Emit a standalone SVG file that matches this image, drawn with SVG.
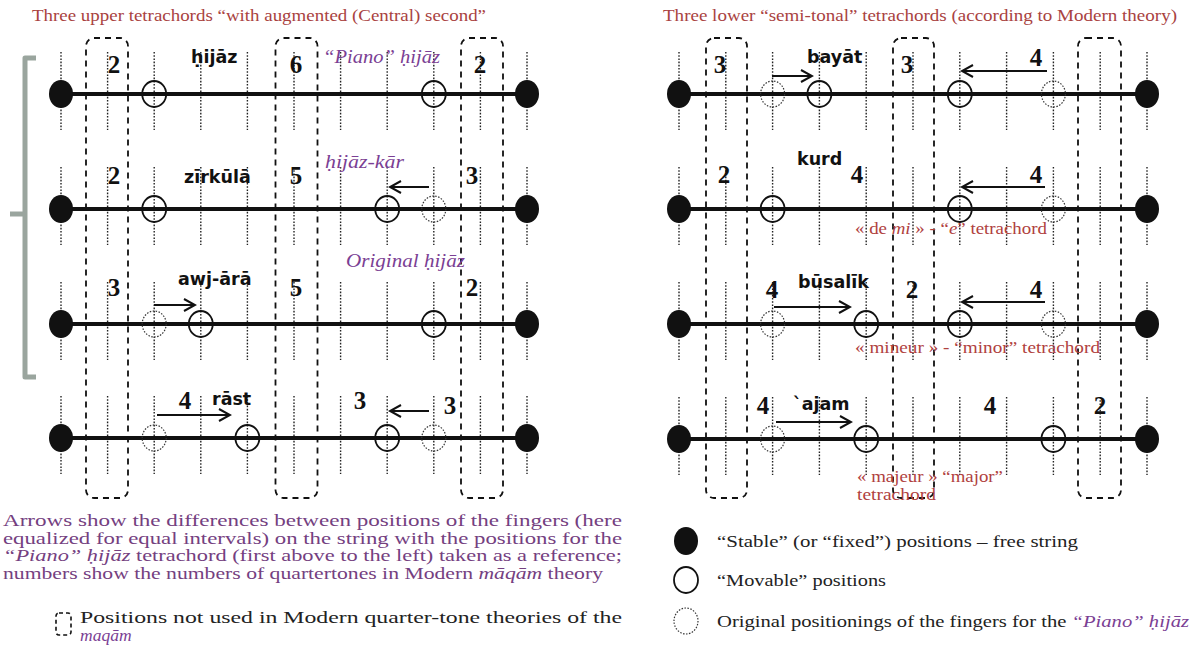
<svg xmlns="http://www.w3.org/2000/svg" xmlns:xlink="http://www.w3.org/1999/xlink" width="1192" height="647" viewBox="0 0 1192 647">
<style>
.tick{stroke:#222;stroke-width:1.4;stroke-dasharray:1.6 1.6}
.str{stroke:#111;stroke-width:4}
.fix{fill:#111}
.mov{fill:none;stroke:#111;stroke-width:1.8}
.orig{fill:none;stroke:#333;stroke-width:1.2;stroke-dasharray:1.5 1.5}
.col{fill:none;stroke:#111;stroke-width:1.8;stroke-dasharray:6 5}
.arr{stroke:#111;stroke-width:2;fill:none;marker-end:url(#ah)}
.num{font-family:"Liberation Serif","DejaVu Serif",serif;font-weight:700;font-size:25px;fill:#111;text-anchor:middle}
.name{font-family:"DejaVu Sans",sans-serif;font-weight:bold;font-size:17.5px;fill:#111}
.pi{font-family:"Liberation Serif",serif;font-style:italic;font-size:19px;fill:#7b3f94}
.red{font-family:"Liberation Serif",serif;font-size:17px;fill:#b0413e}
.title{font-family:"Liberation Serif",serif;font-size:17px;fill:#a9423f}
.para{font-family:"Liberation Serif",serif;font-size:17px;fill:#74407f}
.leg{font-family:"Liberation Serif",serif;font-size:17.5px;fill:#222}
.it{font-style:italic}
.pur{fill:#7b3f94;font-style:italic}
</style>
<defs>
<marker id="ah" markerWidth="14" markerHeight="14" refX="12" refY="7" orient="auto" markerUnits="userSpaceOnUse"><path d="M1,1 L12,7 L1,13" fill="none" stroke="#111" stroke-width="2"/></marker>
<g id="ticksL">
<line class="tick" x1="61" y1="-42" x2="61" y2="36"/><line class="tick" x1="107.6" y1="-42" x2="107.6" y2="36"/><line class="tick" x1="154.2" y1="-42" x2="154.2" y2="36"/><line class="tick" x1="200.8" y1="-42" x2="200.8" y2="36"/><line class="tick" x1="247.4" y1="-42" x2="247.4" y2="36"/><line class="tick" x1="294" y1="-42" x2="294" y2="36"/><line class="tick" x1="340.6" y1="-42" x2="340.6" y2="36"/><line class="tick" x1="387.2" y1="-42" x2="387.2" y2="36"/><line class="tick" x1="433.8" y1="-42" x2="433.8" y2="36"/><line class="tick" x1="480.4" y1="-42" x2="480.4" y2="36"/><line class="tick" x1="527" y1="-42" x2="527" y2="36"/>
<line class="str" x1="61" y1="0" x2="527" y2="0"/>
<ellipse class="fix" cx="61" cy="0" rx="12" ry="14"/><ellipse class="fix" cx="527" cy="0" rx="12" ry="14"/>
</g>
<g id="ticksR">
<line class="tick" x1="679" y1="-42" x2="679" y2="36"/><line class="tick" x1="725.8" y1="-42" x2="725.8" y2="36"/><line class="tick" x1="772.6" y1="-42" x2="772.6" y2="36"/><line class="tick" x1="819.4" y1="-42" x2="819.4" y2="36"/><line class="tick" x1="866.2" y1="-42" x2="866.2" y2="36"/><line class="tick" x1="913" y1="-42" x2="913" y2="36"/><line class="tick" x1="959.8" y1="-42" x2="959.8" y2="36"/><line class="tick" x1="1006.6" y1="-42" x2="1006.6" y2="36"/><line class="tick" x1="1053.4" y1="-42" x2="1053.4" y2="36"/><line class="tick" x1="1100.2" y1="-42" x2="1100.2" y2="36"/><line class="tick" x1="1147" y1="-42" x2="1147" y2="36"/>
<line class="str" x1="679" y1="0" x2="1147" y2="0"/>
<ellipse class="fix" cx="679" cy="0" rx="12" ry="14"/><ellipse class="fix" cx="1147" cy="0" rx="12" ry="14"/>
</g>
</defs>
<rect width="1192" height="647" fill="#fff"/>

<text class="title" x="32" y="21" textLength="454" lengthAdjust="spacingAndGlyphs">Three upper tetrachords “with augmented (Central) second”</text>
<text class="title" x="663" y="21" textLength="514" lengthAdjust="spacingAndGlyphs">Three lower “semi-tonal” tetrachords (according to Modern theory)</text>

<g id="bracket" fill="none" stroke="#9aa59e" stroke-width="5" stroke-linejoin="round">
<path d="M36,58 L25,58 L25,377 L36,377"/><path d="M25,214 L10,214"/>
</g>

<g id="columns">
<rect class="col" x="86" y="38" width="42" height="460" rx="8"/>
<rect class="col" x="275.5" y="38" width="42" height="460" rx="8"/>
<rect class="col" x="461" y="38" width="42" height="460" rx="8"/>
<rect class="col" x="706" y="38" width="41" height="460" rx="8"/>
<rect class="col" x="893" y="38" width="41" height="460" rx="8"/>
<rect class="col" x="1078" y="38" width="43" height="460" rx="8"/>
</g>

<g id="hijaz">
<use xlink:href="#ticksL" transform="translate(0,94)"/>
<ellipse class="mov" cx="154.2" cy="94" rx="12" ry="13"/><ellipse class="mov" cx="433.8" cy="94" rx="12" ry="13"/>
<text class="num" x="114" y="73">2</text><text class="name" x="191" y="63">ḥijāz</text><text class="num" x="296" y="73">6</text>
<text class="pi" x="323" y="63" textLength="117" lengthAdjust="spacingAndGlyphs">“Piano” ḥijāz</text><text class="num" x="480" y="73">2</text>
</g>
<g id="zirkula">
<use xlink:href="#ticksL" transform="translate(0,209)"/>
<ellipse class="mov" cx="154.2" cy="209" rx="12" ry="13"/><ellipse class="mov" cx="387.2" cy="209" rx="12" ry="13"/><ellipse class="orig" cx="433.8" cy="209" rx="12" ry="13"/>
<text class="num" x="114" y="184">2</text><text class="name" x="184" y="183">zīrkūlā</text><text class="num" x="296" y="184">5</text>
<text class="pi" x="325" y="168" textLength="79" lengthAdjust="spacingAndGlyphs">ḥijāz-kār</text><text class="num" x="472" y="184">3</text>
</g>
<g id="awjara">
<use xlink:href="#ticksL" transform="translate(0,324)"/>
<ellipse class="orig" cx="154.2" cy="324" rx="12" ry="13"/><ellipse class="mov" cx="200.8" cy="324" rx="12" ry="13"/><ellipse class="mov" cx="433.8" cy="324" rx="12" ry="13"/>
<text class="num" x="114" y="296">3</text><text class="name" x="178" y="285">awj-ārā</text><text class="num" x="296" y="296">5</text>
<text class="pi" x="346" y="267" textLength="119" lengthAdjust="spacingAndGlyphs">Original ḥijāz</text><text class="num" x="472" y="296">2</text>
</g>
<g id="rast">
<use xlink:href="#ticksL" transform="translate(0,438)"/>
<ellipse class="orig" cx="154.2" cy="438" rx="12" ry="13"/><ellipse class="mov" cx="247.4" cy="438" rx="12" ry="13"/><ellipse class="mov" cx="387.2" cy="438" rx="12" ry="13"/><ellipse class="orig" cx="433.8" cy="438" rx="12" ry="13"/>
<text class="num" x="185" y="409">4</text><text class="name" x="212" y="405">rāst</text><text class="num" x="360" y="409">3</text><text class="num" x="450" y="414">3</text>
</g>

<g id="bayat">
<use xlink:href="#ticksR" transform="translate(0,94)"/>
<ellipse class="orig" cx="772.6" cy="94" rx="12" ry="13"/><ellipse class="mov" cx="819.4" cy="94" rx="12" ry="13"/><ellipse class="mov" cx="959.8" cy="94" rx="12" ry="13"/><ellipse class="orig" cx="1053.4" cy="94" rx="12" ry="13"/>
<text class="num" x="720" y="73">3</text><text class="name" x="807" y="63">bayāt</text><text class="num" x="907" y="73">3</text><text class="num" x="1036" y="66">4</text>
</g>
<g id="kurd">
<use xlink:href="#ticksR" transform="translate(0,209)"/>
<ellipse class="mov" cx="772.6" cy="209" rx="12" ry="13"/><ellipse class="mov" cx="959.8" cy="209" rx="12" ry="13"/><ellipse class="orig" cx="1053.4" cy="209" rx="12" ry="13"/>
<text class="num" x="724" y="183">2</text><text class="name" x="797" y="165">kurd</text><text class="num" x="857" y="183">4</text><text class="num" x="1036" y="183">4</text>
<text class="red" x="855" y="234" textLength="192" lengthAdjust="spacingAndGlyphs">« de <tspan class="it">mi</tspan> » - “<tspan class="it">e</tspan>” tetrachord</text>
</g>
<g id="busalik">
<use xlink:href="#ticksR" transform="translate(0,324)"/>
<ellipse class="orig" cx="772.6" cy="324" rx="12" ry="13"/><ellipse class="mov" cx="866.2" cy="324" rx="12" ry="13"/><ellipse class="mov" cx="959.8" cy="324" rx="12" ry="13"/><ellipse class="orig" cx="1053.4" cy="324" rx="12" ry="13"/>
<text class="num" x="772" y="298">4</text><text class="name" x="798" y="288">būsalīk</text><text class="num" x="912" y="298">2</text><text class="num" x="1036" y="298">4</text>
<text class="red" x="855" y="353" textLength="245" lengthAdjust="spacingAndGlyphs">« mineur » - “minor” tetrachord</text>
</g>
<g id="ajam">
<use xlink:href="#ticksR" transform="translate(0,439)"/>
<ellipse class="orig" cx="772.6" cy="439" rx="12" ry="13"/><ellipse class="mov" cx="866.2" cy="439" rx="12" ry="13"/><ellipse class="mov" cx="1053.4" cy="439" rx="12" ry="13"/>
<text class="num" x="763" y="414">4</text><text class="name" x="793" y="410">`ajam</text><text class="num" x="990" y="414">4</text><text class="num" x="1100" y="414">2</text>
<text class="red" x="857" y="482" textLength="146" lengthAdjust="spacingAndGlyphs">« majeur » “major”</text><text class="red" x="857" y="500" textLength="79" lengthAdjust="spacingAndGlyphs">tetrachord</text>
</g>

<g id="connectors">
<line class="arr" x1="429" y1="187" x2="390" y2="187"/>
<line class="arr" x1="154" y1="305" x2="195" y2="305"/>
<line class="arr" x1="157" y1="415" x2="230" y2="415"/>
<line class="arr" x1="429" y1="411" x2="390" y2="411"/>
<line class="arr" x1="772" y1="76" x2="812" y2="76"/>
<line class="arr" x1="1047" y1="71" x2="962" y2="71"/>
<line class="arr" x1="1045" y1="187" x2="962" y2="187"/>
<line class="arr" x1="774" y1="307" x2="850" y2="307"/>
<line class="arr" x1="1045" y1="302" x2="962" y2="302"/>
<line class="arr" x1="776" y1="422" x2="851" y2="422"/>
</g>

<g id="note">
<text class="para" x="3" y="526" textLength="619" lengthAdjust="spacingAndGlyphs">Arrows show the differences between positions of the fingers (here</text>
<text class="para" x="3" y="543.5" textLength="619" lengthAdjust="spacingAndGlyphs">equalized for equal intervals) on the string with the positions for the</text>
<text class="para" x="3" y="561" textLength="619" lengthAdjust="spacingAndGlyphs"><tspan class="it">“Piano” ḥijāz</tspan> tetrachord (first above to the left) taken as a reference;</text>
<text class="para" x="3" y="578.5" textLength="600" lengthAdjust="spacingAndGlyphs">numbers show the numbers of quartertones in Modern <tspan class="it">māqām</tspan> theory</text>
</g>

<g id="legend-left">
<rect class="col" x="56" y="613" width="15" height="22" rx="3" style="stroke-dasharray:4 3;stroke-width:1.6"/>
<text class="leg" x="80" y="623" textLength="542" lengthAdjust="spacingAndGlyphs">Positions not used in Modern quarter-tone theories of the</text>
<text class="leg pur" x="80" y="641">maqām</text>
</g>

<g id="legend-right">
<ellipse class="fix" cx="686" cy="541" rx="12" ry="14"/>
<text class="leg" x="717" y="547" textLength="361" lengthAdjust="spacingAndGlyphs">“Stable” (or “fixed”) positions – free string</text>
<ellipse class="mov" cx="686" cy="580" rx="12" ry="13"/>
<text class="leg" x="717" y="586" textLength="169" lengthAdjust="spacingAndGlyphs">“Movable” positions</text>
<ellipse class="orig" cx="686" cy="621" rx="12" ry="13"/>
<text class="leg" x="717" y="627" textLength="472" lengthAdjust="spacingAndGlyphs">Original positionings of the fingers for the <tspan class="pur">“Piano” ḥijāz</tspan></text>
</g>
</svg>
